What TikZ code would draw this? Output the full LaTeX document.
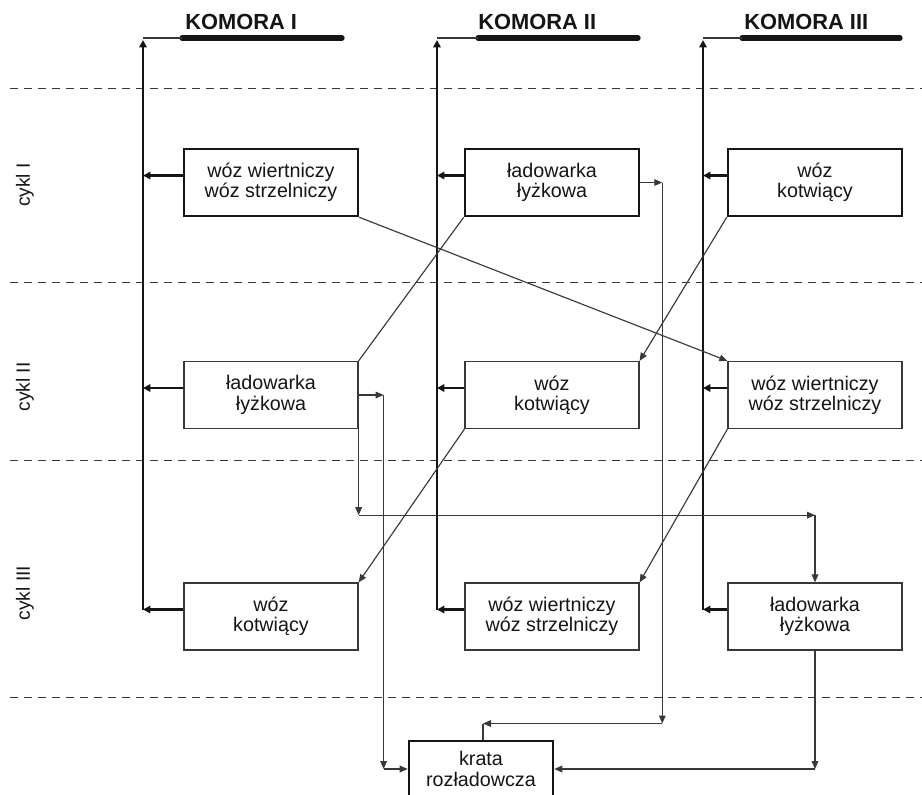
\documentclass[tikz,border=0pt]{standalone}
\usepackage{fontspec}
\setmainfont{Liberation Sans}
\usetikzlibrary{arrows.meta,calc}
\definecolor{thinc}{HTML}{383838}
\definecolor{thickc}{HTML}{151515}
\begin{document}
\begin{tikzpicture}[x=0.75pt,y=-0.75pt,
  boxtext/.style={font=\fontsize{14.8}{15.2}\selectfont, align=center, text=thickc},
  cbox/.style={boxtext, draw=thinc, line width=0.95pt, minimum width=130.5pt, minimum height=50.25pt, inner sep=0pt},
  cboxthick/.style={cbox, draw=thickc, line width=1.9pt},
  hdr/.style={font=\fontsize{16.4}{17}\selectfont\bfseries, text=thickc, inner sep=0pt},
  cyklab/.style={font=\fontsize{14.4}{15}\selectfont, text=thickc, rotate=90, inner sep=0pt},
  sepline/.style={draw=thinc, line width=0.75pt, dash pattern=on 6pt off 4.5pt},
  thinl/.style={draw=thinc, line width=0.85pt},
  flow/.style={thinl, -{Triangle[length=6pt,width=5pt]}},
  busline/.style={draw=thickc, line width=1.9pt},
  busarrow/.style={busline, -{Triangle[length=5.5pt,width=5.5pt]}},
  barline/.style={draw=thickc, line width=4pt, line cap=round}
]
\useasboundingbox (0,0) rectangle (922,794);
\fill[white] (0,0) rectangle (922,794);

% cycle separators
\foreach \yy in {88,282,460,697} \draw[sepline] (10,\yy) -- (922,\yy);

% cycle labels
\node[cyklab] (cI) at (25,185) {cykl I};
\node[cyklab] (cII) at (25,387) {cykl II};
\node[cyklab] (cIII) at (25,593) {cykl III};

% headers
\node[hdr, anchor=base west] (hI) at (185,29) {KOMORA I};
\node[hdr, anchor=base west] (hII) at (478,29) {KOMORA II};
\node[hdr, anchor=base west] (hIII) at (744,29) {KOMORA III};

\coordinate (busI) at (143,38);
\coordinate (busII) at (437,38);
\coordinate (busIII) at (703,38);
\coordinate (barIa) at (182,38);  \coordinate (barIb) at (342,38);
\coordinate (barIIa) at (478,38); \coordinate (barIIb) at (638,38);
\coordinate (barIIIa) at (742,38); \coordinate (barIIIb) at (900,38);

\draw[barline] (barIa) -- (barIb);
\draw[barline] (barIIa) -- (barIIb);
\draw[barline] (barIIIa) -- (barIIIb);
\draw[thinl, line width=1.1pt] (busI) -- (barIa);
\draw[thinl, line width=1.1pt] (busII) -- (barIIa);
\draw[thinl, line width=1.1pt] (busIII) -- (barIIIa);

% boxes
\node[cboxthick] (A1) at (271,182.5) {wóz wiertniczy\\wóz strzelniczy};
\node[cboxthick] (B1) at (552,182.5) {ładowarka\\łyżkowa};
\node[cboxthick] (C1) at (815,182.5) {wóz\\kotwiący};
\node[cbox] (A2) at (271,395) {ładowarka\\łyżkowa};
\node[cbox] (B2) at (552,395) {wóz\\kotwiący};
\node[cbox] (C2) at (815,395) {wóz wiertniczy\\wóz strzelniczy};
\node[cbox] (A3) at (271,616.5) {wóz\\kotwiący};
\node[cbox] (B3) at (552,616.5) {wóz wiertniczy\\wóz strzelniczy};
\node[cbox] (C3) at (815,616.5) {ładowarka\\łyżkowa};
\node[cboxthick, minimum width=108pt, minimum height=42pt] (K) at (481,769) {krata\\rozładowcza};

% bus arrows
\foreach \n in {A1,B1,C1,A2,B2,C2,A3,B3,C3}
  \coordinate (\n o) at ($(\n.west)+(0,-7)$);
\draw[busarrow] (A3o -| busI) -- ($(busI)+(0,2)$);
\draw[busarrow] (B3o -| busII) -- ($(busII)+(0,2)$);
\draw[busarrow] (C3o -| busIII) -- ($(busIII)+(0,2)$);
\draw[busarrow] (A1o) -- (A1o -| busI);
\draw[busarrow] (A2o) -- (A2o -| busI);
\draw[busarrow] (A3o) -- (A3o -| busI);
\draw[busarrow] (B1o) -- (B1o -| busII);
\draw[busarrow] (B2o) -- (B2o -| busII);
\draw[busarrow] (B3o) -- (B3o -| busII);
\draw[busarrow] (C1o) -- (C1o -| busIII);
\draw[busarrow] (C2o) -- (C2o -| busIII);
\draw[busarrow] (C3o) -- (C3o -| busIII);

% diagonal moves
\draw[flow] (A1.south east) -- (C2.north west);
\draw[thinl] (B1.south west) -- (A2.north east);
\draw[flow] (C1.south west) -- (B2.north east);
\draw[flow] (B2.south west) -- (A3.north east);
\draw[flow] (C2.south west) -- (B3.north east);

% A2 -> krata
\coordinate (p1) at ($(A2.east)+(25,0)$);
\coordinate (p2) at (p1 |- K.west);
\draw[flow] (A2.east) -- (p1);
\draw[flow] (p1) -- (p2);
\draw[flow] (p2) -- (K.west);

% A2 -> C3
\coordinate (q1) at ($(A2.south east)+(0,86)$);
\coordinate (q2) at (q1 -| C3.north);
\draw[flow] (A2.south east) -- (q1);
\draw[flow] (q1) -- (q2);
\draw[flow] (q2) -- (C3.north);

% B1 -> krata
\coordinate (r1) at ($(B1.east)+(22,0)$);
\coordinate (r2) at ($(r1)+(0,541)$);
\coordinate (r3) at ($(r2 -| K.north)+(2,0)$);
\draw[flow] (B1.east) -- (r1);
\draw[flow] (r1) -- (r2);
\draw[flow] (r2) -- (r3);
\draw[thinl] (r3) -- (r3 |- K.north);

% C3 -> krata
\coordinate (s1) at (C3.south |- K.east);
\draw[flow] (C3.south) -- (s1);
\draw[flow] (s1) -- (K.east);
\end{tikzpicture}
\end{document}
